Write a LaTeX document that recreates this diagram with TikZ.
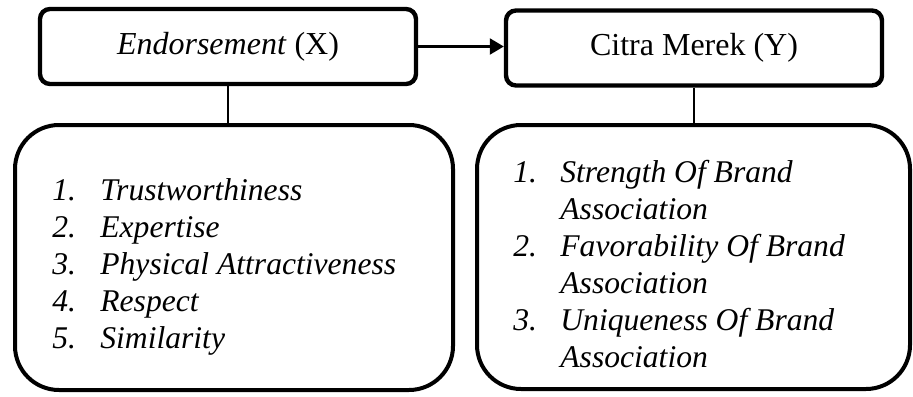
\documentclass[tikz,border=0pt]{standalone}
\usepackage{fontspec}
\setmainfont{Liberation Serif}
\usepackage{array}
\usetikzlibrary{arrows.meta}

\begin{document}
\begin{tikzpicture}[x=0.5pt,y=-0.5pt,
        font=\fontsize{16}{18.5}\selectfont,
        topbox/.style={draw, line width=2.2pt, rounded corners=5pt, minimum width=188pt, minimum height=37.5pt, inner sep=0pt},
        listbox/.style={draw, line width=2pt, rounded corners=22pt, inner sep=0pt},
        itemlist/.style={anchor=base west, inner sep=0pt, font=\fontsize{15.8}{18.5}\selectfont\itshape}]
        \useasboundingbox (0,0) rectangle (913,396);
        % Variabel
        \node[topbox] (X) at (228,46.5) {\textit{Endorsement} (X)};
        \node[topbox] (Y) at (694,48) {Citra Merek (Y)};
        % Indikator
        \node[listbox, minimum width=219pt, minimum height=132.5pt] (Xbox) at (234,257.5) {};
        \node[listbox, minimum width=216.5pt, minimum height=132pt] (Ybox) at (693.5,257) {};
        \node[itemlist] (Xlist) at (52,200) {\begin{tabular}[t]{@{}p{24pt}@{}l@{}}
            1. & Trustworthiness\\
            2. & Expertise\\
            3. & Physical Attractiveness\\
            4. & Respect\\
            5. & Similarity
        \end{tabular}};
        \node[itemlist] (Ylist) at (513,182) {\begin{tabular}[t]{@{}p{23.5pt}@{}l@{}}
            1. & Strength Of Brand\\
               & Association\\
            2. & Favorability Of Brand\\
               & Association\\
            3. & Uniqueness Of Brand\\
               & Association
        \end{tabular}};
        % Garis
        \draw[line width=1.1pt, -{Triangle[length=7pt,width=8pt]}] (X.east) -- (Y.west |- X.east);
        \draw[line width=1pt] (X.south) -- (X.south |- Xbox.north);
        \draw[line width=1pt] (Y.south) -- (Y.south |- Ybox.north);
    \end{tikzpicture}
\end{document}
